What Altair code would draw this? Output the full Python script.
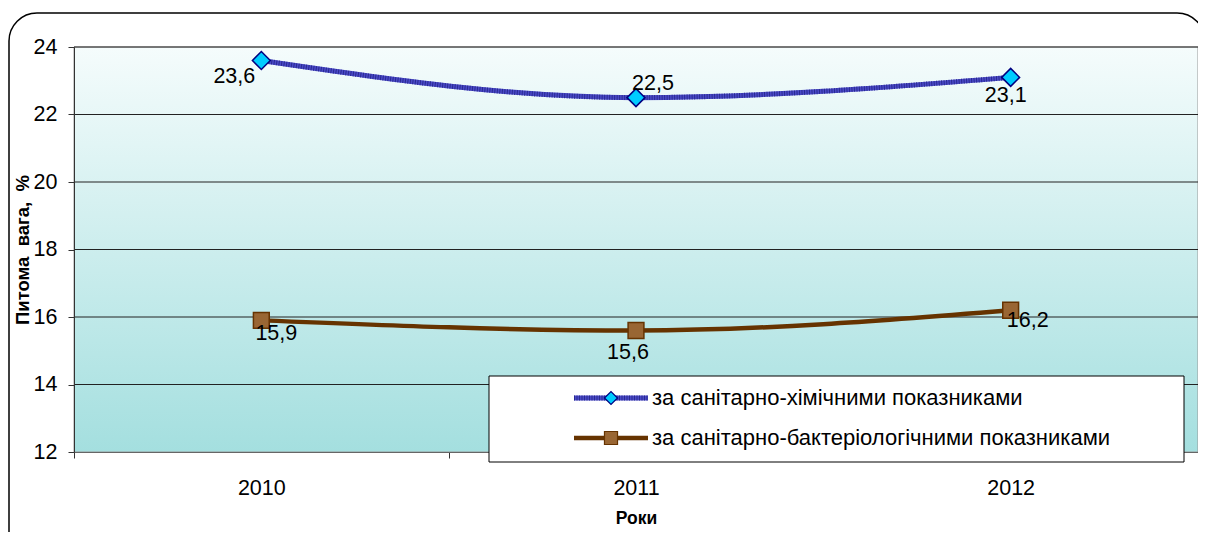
import altair as alt
import pandas as pd

years = ["2010", "2011", "2012"]
chem = [23.6, 22.5, 23.1]
bact = [15.9, 15.6, 16.2]
series_names = ["за санітарно-хімічними показниками", "за санітарно-бактеріологічними показниками"]
labels_chem = ["23,6", "22,5", "23,1"]
labels_bact = ["15,9", "15,6", "16,2"]
yticks = [12, 14, 16, 18, 20, 22, 24]

W, H = 1124, 405
FONT = "Liberation Sans"
NUM = 21.5

df = pd.DataFrame({
    "year": years * 2,
    "value": chem + bact,
    "series": [series_names[0]] * 3 + [series_names[1]] * 3,
    "label": labels_chem + labels_bact,
    "idx": list(range(6)),
})
grid_df = pd.DataFrame({"v": yticks})
one = pd.DataFrame({"a": [0]})

xenc = alt.X("year:N", scale=alt.Scale(domain=years, paddingInner=0, paddingOuter=0),
             axis=alt.Axis(title="Роки", labelAngle=0, labelFontSize=NUM, labelFont=FONT,
                           titleFont=FONT, titleFontSize=17.5, titleFontWeight="bold",
                           titlePadding=11, labelPadding=19, tickBand="extent",
                           domainColor="#333", tickColor="#333", tickSize=6,
                           labelColor="black", titleColor="black", grid=False))
yscale = alt.Scale(domain=[12, 24], nice=False, zero=False)
yenc = alt.Y("value:Q", scale=yscale,
             axis=alt.Axis(title="Питома\u00a0\u00a0вага,\u00a0\u00a0%", values=yticks, labelFontSize=NUM,
                           labelFont=FONT, titleFont=FONT, titleFontSize=18.5, titleFontWeight="bold",
                           titlePadding=1, labelPadding=11, grid=False, zindex=1,
                           domainColor="#333", tickColor="#333", tickSize=6,
                           labelColor="black", titleColor="black"))

base = alt.Chart(df)

outer = alt.Chart(one).mark_rect(fillOpacity=0, stroke="black", strokeWidth=1.5, cornerRadius=28).encode(
    x=alt.value(-65), x2=alt.value(1131), y=alt.value(-34), y2=alt.value(520))

grad = alt.Chart(one).mark_rect(
    color=alt.LinearGradient(gradient="linear", x1=0, y1=0, x2=0, y2=1,
                             stops=[alt.GradientStop(color="#f5fcfc", offset=0),
                                    alt.GradientStop(color="#a4dfdf", offset=1)]),
    stroke="#999", strokeWidth=1).encode(
    x=alt.value(0), x2=alt.value(W), y=alt.value(0), y2=alt.value(H))

grid = alt.Chart(grid_df).transform_filter("datum.v > 12").mark_rule(color="#222", strokeWidth=1).encode(
    y=alt.Y("v:Q", scale=yscale), x=alt.value(0), x2=alt.value(W))

chem_df = base.transform_filter(alt.datum.series == series_names[0])
bact_df = base.transform_filter(alt.datum.series == series_names[1])

line_chem1 = chem_df.mark_line(color="#4a4ac8", strokeWidth=5, interpolate="monotone").encode(x=xenc, y=yenc)
line_chem2 = chem_df.mark_line(color="#2a2a90", strokeWidth=5, strokeDash=[1, 1.5], interpolate="monotone").encode(x=xenc, y=yenc)
line_bact = bact_df.mark_line(color="#663300", strokeWidth=4.5, interpolate="monotone").encode(x=xenc, y=yenc)

pts_chem = chem_df.mark_point(shape="diamond", size=320, filled=True, fill="#00ccff", stroke="#000080",
                              strokeWidth=1.5, opacity=1).encode(x=xenc, y=yenc)
pts_bact = bact_df.mark_point(shape="square", size=250, filled=True, fill="#996633", stroke="#663300",
                              strokeWidth=1.5, opacity=1).encode(x=xenc, y=yenc)

offsets = [(-27, 16), (17, -14), (-5, 19), (15, 14), (-8, 22), (17, 11)]
text_layers = []
for i, (dx, dy) in enumerate(offsets):
    text_layers.append(
        base.transform_filter(alt.datum.idx == i).mark_text(
            dx=dx, dy=dy, fontSize=NUM, font=FONT, color="black", baseline="middle", align="center"
        ).encode(x=xenc, y=yenc, text="label:N"))

legend_box = alt.Chart(one).mark_rect(fill="white", stroke="black", strokeWidth=1).encode(
    x=alt.value(415), x2=alt.value(1110), y=alt.value(329), y2=alt.value(415))

leg_df = pd.DataFrame({"series": series_names, "row": [0, 1]})
leg_y = {0: 351, 1: 391}
leg_layers = []
leg_layers.append(alt.Chart(leg_df).transform_filter("datum.row == 0").mark_rule(color="#4a4ac8", strokeWidth=5).encode(
    x=alt.value(500), x2=alt.value(574), y=alt.value(leg_y[0])))
leg_layers.append(alt.Chart(leg_df).transform_filter("datum.row == 0").mark_rule(color="#2a2a90", strokeWidth=5, strokeDash=[1, 1.5]).encode(
    x=alt.value(500), x2=alt.value(574), y=alt.value(leg_y[0])))
leg_layers.append(alt.Chart(leg_df).transform_filter("datum.row == 0").mark_point(
    shape="diamond", size=170, filled=True, fill="#00ccff", stroke="#000080", strokeWidth=1.2, opacity=1).encode(
    x=alt.value(537), y=alt.value(leg_y[0])))
leg_layers.append(alt.Chart(leg_df).transform_filter("datum.row == 1").mark_rule(color="#663300", strokeWidth=4.5).encode(
    x=alt.value(500), x2=alt.value(574), y=alt.value(leg_y[1])))
leg_layers.append(alt.Chart(leg_df).transform_filter("datum.row == 1").mark_point(
    shape="square", size=170, filled=True, fill="#996633", stroke="#663300", strokeWidth=1.2, opacity=1).encode(
    x=alt.value(537), y=alt.value(leg_y[1])))
for r in [0, 1]:
    leg_layers.append(alt.Chart(leg_df).transform_filter(f"datum.row == {r}").mark_text(
        align="left", baseline="middle", fontSize=22, font=FONT, color="black").encode(
        x=alt.value(578), y=alt.value(leg_y[r]), text="series:N"))

chart = alt.layer(
    outer, grad, grid, line_chem1, line_chem2, line_bact, pts_chem, pts_bact,
    *text_layers, legend_box, *leg_layers
).properties(
    width=W, height=H,
    padding={"left": 66, "top": 39, "right": 0, "bottom": 80},
    autosize=alt.AutoSizeParams(type="none"),
).configure_view(stroke=None).configure(background="white")

chart.save("out.html", embed_options={"renderer": "svg", "actions": False})
